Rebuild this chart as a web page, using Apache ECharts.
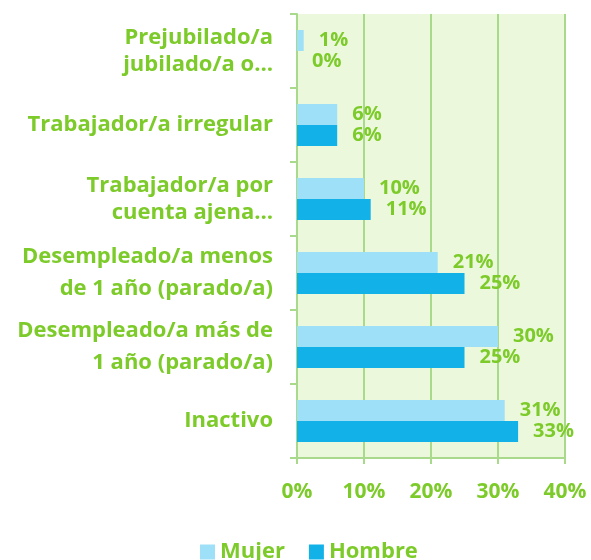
<!DOCTYPE html>
<html>
<head>
<meta charset="utf-8">
<script src="https://cdn.jsdelivr.net/npm/echarts@6/dist/echarts.min.js"></script>
<style>
  html, body { margin: 0; padding: 0; background: #fff; }
  #chart { width: 591px; height: 560px; }
</style>
</head>
<body>
<div id="chart"></div>
<script>
var categories = [
    'Prejubilado/a\njubilado/a o…',
    'Trabajador/a irregular',
    'Trabajador/a por\ncuenta ajena…',
    'Desempleado/a menos\nde 1 año (parado/a)',
    'Desempleado/a más de\n1 año (parado/a)',
    'Inactivo'
];
var mujer = [1, 6, 10, 21, 30, 31];
var hombre = [0, 6, 11, 25, 25, 33];

var green = '#7DCB2A';
var gridGreen = '#A9DA8C';
var font = 'Open Sans';

// the two "Desempleado" labels are spaced wider in the original
var yData = categories.map(function(c) {
    return {
        value: c,
        textStyle: { lineHeight: c.indexOf('Desempleado') === 0 ? 32 : 27 }
    };
});

var labelStyle = {
    show: true,
    position: 'right',
    distance: 15,
    color: green,
    fontFamily: font,
    fontWeight: 'bold',
    fontSize: 20,
    formatter: '{c}%'
};

var option = {
    animation: false,
    textStyle: { fontFamily: font },
    grid: {
        left: 297,
        right: 26,
        top: 14,
        bottom: 102
    },
    legend: {
        data: ['Mujer', 'Hombre'],
        left: 195,
        top: 536,
        itemWidth: 15,
        itemHeight: 15,
        itemGap: 24,
        icon: 'rect',
        textStyle: {
            color: green,
            fontWeight: 'bold',
            fontSize: 22,
            fontFamily: font
        }
    },
    xAxis: {
        type: 'value',
        min: 0,
        max: 40,
        interval: 10,
        axisLine: { show: true, lineStyle: { color: gridGreen, width: 2 } },
        axisTick: { show: true, length: 6, lineStyle: { color: gridGreen, width: 2 } },
        splitLine: { show: true, lineStyle: { color: gridGreen, width: 2 } },
        axisLabel: {
            color: green,
            fontWeight: 'bold',
            fontSize: 21,
            fontFamily: font,
            margin: 24,
            formatter: '{value}%'
        }
    },
    yAxis: {
        type: 'category',
        inverse: true,
        data: yData,
        axisLine: { show: true, lineStyle: { color: gridGreen, width: 2 } },
        axisTick: { show: true, length: 7, lineStyle: { color: gridGreen, width: 2 } },
        splitArea: { show: true, areaStyle: { color: ['#EBF8DC', '#EBF8DC'] } },
        axisLabel: {
            color: green,
            fontWeight: 'bold',
            fontSize: 22,
            fontFamily: font,
            margin: 24,
            lineHeight: 27,
            align: 'right'
        }
    },
    series: [{
        name: 'Mujer',
        type: 'bar',
        data: mujer,
        barWidth: 21,
        barGap: '0%',
        itemStyle: { color: '#9EE0F7' },
        label: labelStyle
    }, {
        name: 'Hombre',
        type: 'bar',
        data: hombre,
        barWidth: 21,
        barGap: '0%',
        itemStyle: { color: '#12B2E8' },
        label: labelStyle
    }]
};

var myChart = echarts.init(document.getElementById('chart'));
myChart.setOption(option);
</script>
</body>
</html>
